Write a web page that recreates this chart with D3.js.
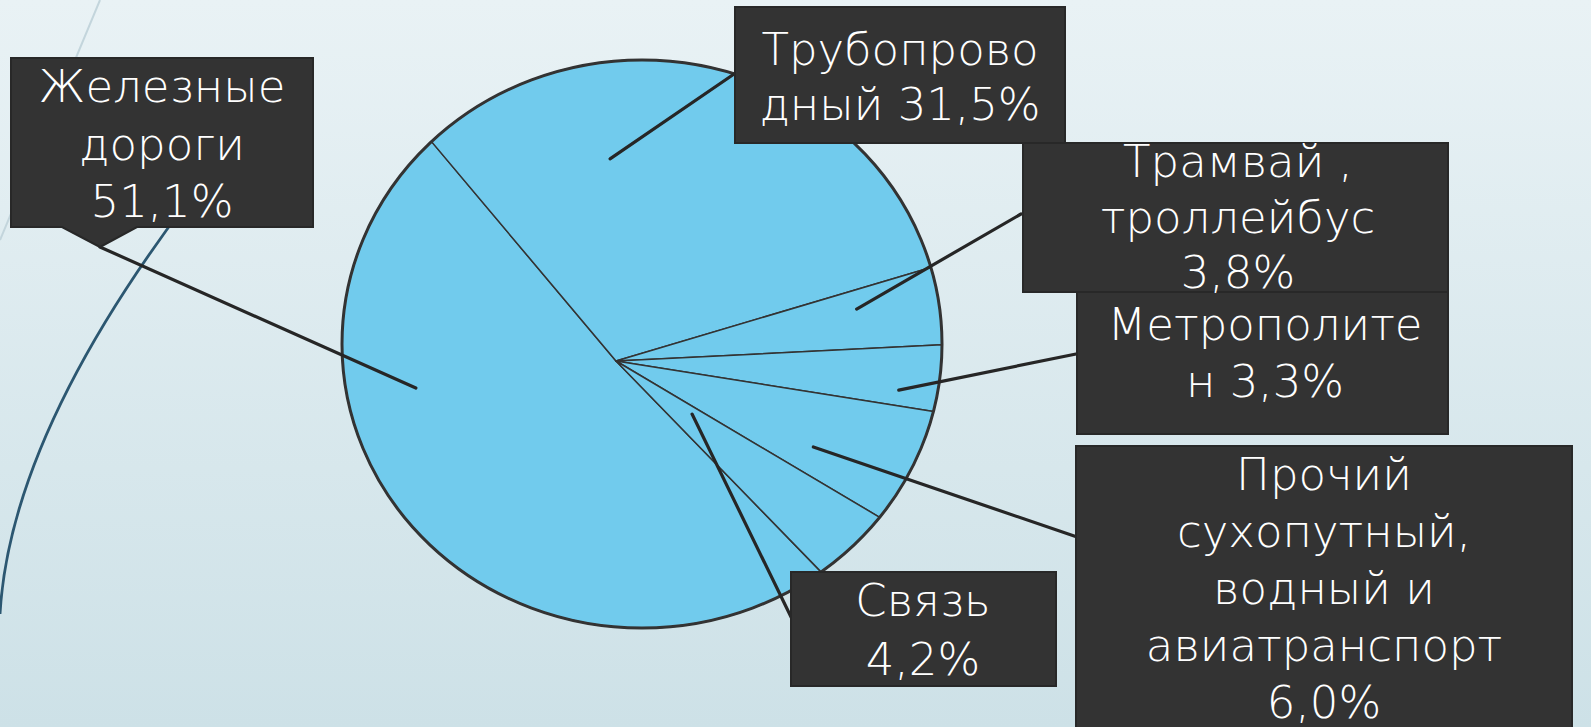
<!DOCTYPE html>
<html lang="ru">
<head>
<meta charset="UTF-8">
<title>Структура</title>
<script src="https://cdn.jsdelivr.net/npm/d3@7"></script>
<style>
  body { margin: 0; overflow: hidden; }
</style>
</head>
<body>
<svg id="chart" width="1591" height="727"></svg>
<script>
// данные
var categories = ["Железные дороги", "Трубопроводный", "Трамвай , троллейбус", "Метрополитен",
                  "Прочий сухопутный, водный и авиатранспорт", "Связь"];
var values = [51.1, 31.5, 3.8, 3.3, 6.0, 4.2];
var labelLines = [
  ["Железные", "дороги", "{v}"],
  ["Трубопрово", "дный {v}"],
  ["Трамвай ,", "троллейбус", "{v}"],
  ["Метрополите", "н {v}"],
  ["Прочий", "сухопутный,", "водный и", "авиатранспорт", "{v}"],
  ["Связь", "{v}"]
];

// раскладка подписей (рамки, куда идут выноски, точка выноски внутри сектора)
var labelLayout = [
  { x: 11,   y: 58,  w: 302, h: 169, cx: 162,  y0: 102, step: 57.5, end: [100, 247], t: 0.687, f: 0.745, notch: [62, 137] },
  { x: 735,  y: 7,   w: 330, h: 136, cx: 900,  y0: 65,  step: 55,   end: [737, 72],  t: 0.338, f: 0.676 },
  { x: 1023, y: 143, w: 425, h: 149, cx: 1238, y0: 177, step: 55.5, end: [1021, 214], t: 0.318, f: 0.75 },
  { x: 1077, y: 292, w: 371, h: 142, cx: 1265, y0: 340, step: 57,   end: [1086, 352], t: 0.733, f: 0.88 },
  { x: 1076, y: 446, w: 496, h: 320, cx: 1324, y0: 490, step: 57,   end: [1080, 538], t: 0.671, f: 0.69 },
  { x: 791,  y: 572, w: 265, h: 114, cx: 923,  y0: 616, step: 59,   end: [793, 621], t: 0.28,  f: 0.306 }
];

var W = 1591, H = 727;
var C = { x: 616, y: 361 };                       // точка схождения секторов
var E = { x: 642, y: 344, rx: 300, ry: 284 };     // контур диаграммы
var rad = function(d) { return d * Math.PI / 180; };
var startDeg = 135.8;

var svg = d3.select("#chart");

// фон
var defs = svg.append("defs");
var grad = defs.append("linearGradient").attr("id", "bg").attr("x1", 0).attr("y1", 0).attr("x2", 0).attr("y2", 1);
grad.append("stop").attr("offset", "0%").attr("stop-color", "#e9f2f5");
grad.append("stop").attr("offset", "100%").attr("stop-color", "#cde1e7");
svg.append("rect").attr("width", W).attr("height", H).attr("fill", "url(#bg)");

svg.append("line").attr("x1", 100).attr("y1", 0).attr("x2", 0).attr("y2", 240)
  .attr("stroke", "#c3d5dc").attr("stroke-width", 2);
var deco = d3.path();
deco.moveTo(0, 614);
deco.quadraticCurveTo(10, 438, 185, 205);
svg.append("path").attr("d", deco.toString()).attr("fill", "none")
  .attr("stroke", "#2c5771").attr("stroke-width", 2.8);

// точка на контуре по направлению из C
function edgePoint(a) {
  var ux = Math.sin(a), uy = -Math.cos(a);
  var px = (C.x - E.x) / E.rx, py = (C.y - E.y) / E.ry;
  var qx = ux / E.rx, qy = uy / E.ry;
  var A = qx * qx + qy * qy, B = 2 * (px * qx + py * qy), Cc = px * px + py * py - 1;
  var s = (-B + Math.sqrt(B * B - 4 * A * Cc)) / (2 * A);
  return [C.x + s * ux, C.y + s * uy];
}

var pie = d3.pie().sort(null)
  .startAngle(rad(startDeg)).endAngle(rad(startDeg + 360));
var arcs = pie(values);

var line = d3.line();
function slicePath(d) {
  var pts = [[C.x, C.y]];
  var n = Math.max(4, Math.ceil((d.endAngle - d.startAngle) / rad(0.5)));
  var ang = d3.scaleLinear().domain([0, n]).range([d.startAngle, d.endAngle]);
  for (var i = 0; i <= n; i++) pts.push(edgePoint(ang(i)));
  return line(pts) + "Z";
}

svg.append("g").selectAll("path").data(arcs).enter()
  .append("path")
  .attr("d", slicePath)
  .attr("fill", "#71cbed")
  .attr("stroke", "#333")
  .attr("stroke-width", 1.5)
  .attr("stroke-linejoin", "round");

svg.append("ellipse").attr("cx", E.x).attr("cy", E.y).attr("rx", E.rx).attr("ry", E.ry)
  .attr("fill", "none").attr("stroke", "#333").attr("stroke-width", 3);

// выноски
svg.append("g").selectAll("line").data(arcs).enter()
  .append("line")
  .attr("x1", function(d, i) {
    var L = labelLayout[i], a = d.startAngle + L.t * (d.endAngle - d.startAngle), p = edgePoint(a);
    return C.x + L.f * (p[0] - C.x);
  })
  .attr("y1", function(d, i) {
    var L = labelLayout[i], a = d.startAngle + L.t * (d.endAngle - d.startAngle), p = edgePoint(a);
    return C.y + L.f * (p[1] - C.y);
  })
  .attr("x2", function(d, i) { return labelLayout[i].end[0]; })
  .attr("y2", function(d, i) { return labelLayout[i].end[1]; })
  .attr("stroke", "#262626").attr("stroke-width", 3.2).attr("stroke-linecap", "round");

// подписи
var fmt = d3.format(".1f");
var order = [0, 1, 3, 2, 4, 5];  // рамка трамвая поверх метро
var boxes = svg.append("g");
order.forEach(function(i) {
  var L = labelLayout[i];
  if (L.notch) {
    var tip = L.end;
    var p = d3.path();
    p.moveTo(L.x, L.y); p.lineTo(L.x + L.w, L.y); p.lineTo(L.x + L.w, L.y + L.h);
    p.lineTo(L.notch[1], L.y + L.h); p.lineTo(tip[0], tip[1]); p.lineTo(L.notch[0], L.y + L.h);
    p.lineTo(L.x, L.y + L.h); p.closePath();
    boxes.append("path").attr("d", p.toString());
  } else {
    boxes.append("rect").attr("x", L.x).attr("y", L.y).attr("width", L.w).attr("height", L.h);
  }
});
boxes.selectAll("*").attr("fill", "#333333").attr("stroke", "#282828").attr("stroke-width", 2);

var texts = svg.append("g")
  .attr("font-family", "'Century Gothic', 'DejaVu Sans', sans-serif")
  .attr("font-weight", 200)
  .attr("font-size", 45).attr("fill", "#ffffff").attr("text-anchor", "middle");
values.forEach(function(v, i) {
  var L = labelLayout[i];
  var vs = fmt(v).replace(".", ",") + "%";
  var t = texts.append("text").attr("data-category", categories[i]);
  labelLines[i].forEach(function(s, k) {
    t.append("tspan").attr("x", L.cx).attr("y", L.y0 + k * L.step).text(s.replace("{v}", vs));
  });
});
</script>
</body>
</html>
